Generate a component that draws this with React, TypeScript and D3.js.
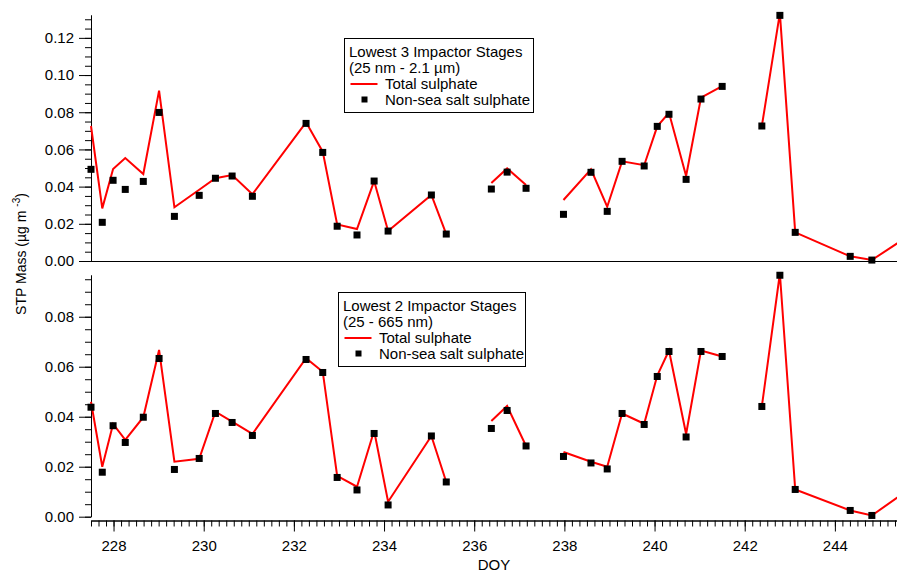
import * as d3 from "d3";
import React, { useRef, useEffect } from "react";

// day of year of each sample, null = break in the record
const doy = [
  227.5, 227.75, 227.99, 228.26, 228.66, 229.01, 229.35, 229.9, 230.26, 230.63,
  231.08, 232.27, 232.64, 232.96, 233.4, 233.78, 234.09, 235.05, 235.38, null,
  236.38, 236.73, 237.15, null,
  237.98, 238.59, 238.95, 239.28, 239.77, 240.06, 240.32, 240.7, 241.03, 241.5, null,
  242.38, 242.78, 243.12, 244.34, 244.82, 245.8,
];

// lowest 3 impactor stages (25 nm - 2.1 um)
const upperTotal = [
  0.0726, 0.0283, 0.0495, 0.0554, 0.0468, 0.0916, 0.0289, 0.0383, 0.0445, 0.0462,
  0.0359, 0.0746, 0.0588, 0.0197, 0.0172, 0.043, 0.0161, 0.0355, 0.0145, null,
  0.0419, 0.0498, 0.0409, null,
  0.0328, 0.0493, 0.0292, 0.0536, 0.0515, 0.0724, 0.0797, 0.0457, 0.0878, 0.094, null,
  0.0726, 0.1333, 0.0154, 0.0025, 0.0005, 0.0162,
];
const upperNss = [
  0.0493, 0.0208, 0.0434, 0.0385, 0.0428, 0.0799, 0.024, 0.0353, 0.0445, 0.0457,
  0.0348, 0.074, 0.0584, 0.0187, 0.014, 0.043, 0.0161, 0.0355, 0.0145, null,
  0.0387, 0.0478, 0.0391, null,
  0.0251, 0.0477, 0.0267, 0.0536, 0.0511, 0.0724, 0.0789, 0.0439, 0.0871, 0.0939, null,
  0.0726, 0.1321, 0.0154, 0.0025, 0.0005, null,
];

// lowest 2 impactor stages (25 - 665 nm)
const lowerTotal = [
  0.046, 0.02, 0.0371, 0.0307, 0.0398, 0.0667, 0.022, 0.0232, 0.042, 0.038,
  0.0331, 0.0634, 0.058, 0.0163, 0.012, 0.0344, 0.006, 0.0323, 0.0139, null,
  0.0383, 0.0443, 0.0283, null,
  0.0259, 0.022, 0.02, 0.0413, 0.0372, 0.0565, 0.0665, 0.0331, 0.0665, 0.0641, null,
  0.0441, 0.0973, 0.0109, 0.0025, 0.0005, 0.0129,
];
const lowerNss = [
  0.0438, 0.0178, 0.0364, 0.0297, 0.0398, 0.0633, 0.0189, 0.0233, 0.0413, 0.0377,
  0.0325, 0.0629, 0.0577, 0.0157, 0.0107, 0.0333, 0.0047, 0.0323, 0.0139, null,
  0.0353, 0.0425, 0.0283, null,
  0.0241, 0.0215, 0.0191, 0.0413, 0.0369, 0.0561, 0.0661, 0.0319, 0.0661, 0.0641, null,
  0.0441, 0.0966, 0.0109, 0.0025, 0.0005, null,
];

const upperTicks = [0, 0.02, 0.04, 0.06, 0.08, 0.1, 0.12];
const lowerTicks = [0, 0.02, 0.04, 0.06, 0.08];
const doyTicks = [228, 230, 232, 234, 236, 238, 240, 242, 244];

const upperTitle = ["Lowest 3 Impactor Stages", "(25 nm - 2.1 \u00b5m)"];
const lowerTitle = ["Lowest 2 Impactor Stages", "(25 - 665 nm)"];

const FONT = "'Liberation Sans', Arial, Helvetica, sans-serif";
const W = 897;
const H = 572;

const App = () => {
  const ref = useRef<SVGSVGElement>(null);

  useEffect(() => {
    const svg = d3.select(ref.current);
    svg.selectAll("*").remove();

    const x = d3.scaleLinear().domain([227.5, 245.4]).range([91, 898]);

    const panels = [
      {
        total: upperTotal,
        nss: upperNss,
        y: d3.scaleLinear().domain([0, 0.1323]).range([261, 15]),
        ticks: upperTicks,
        title: upperTitle,
        box: { x: 344.5, y: 38.5, w: 189, h: 74 },
      },
      {
        total: lowerTotal,
        nss: lowerNss,
        y: d3.scaleLinear().domain([0, 0.0967]).range([516.7, 275]),
        ticks: lowerTicks,
        title: lowerTitle,
        box: { x: 338.5, y: 292.5, w: 187, h: 74 },
      },
    ];

    panels.forEach((p) => {
      const [y0, y1] = p.y.domain();

      // minor then major y ticks
      svg
        .append("g")
        .attr("transform", "translate(91,0)")
        .call(
          d3.axisLeft(p.y).tickValues(d3.range(y0, y1, 0.005)).tickSize(6).tickSizeOuter(0).tickFormat(() => "")
        );
      const ya = svg
        .append("g")
        .attr("transform", "translate(91,0)")
        .call(
          d3.axisLeft(p.y).tickValues(p.ticks).tickSize(12).tickSizeOuter(0).tickPadding(5).tickFormat(d3.format(".2f"))
        );
      ya.selectAll("text").attr("font-size", 15).attr("font-family", FONT).attr("fill", "#000");

      const line = d3
        .line<number | null>()
        .defined((d, i) => d != null && doy[i] != null)
        .x((d, i) => x(doy[i] as number))
        .y((d) => p.y(d as number));

      svg
        .append("path")
        .attr("d", line(p.total))
        .attr("fill", "none")
        .attr("stroke", "#ff0000")
        .attr("stroke-width", 2)
        .attr("stroke-linejoin", "miter");

      svg
        .append("g")
        .selectAll("rect")
        .data(p.nss.map((v, i) => ({ v, t: doy[i] })).filter((d) => d.v != null && d.t != null))
        .join("rect")
        .attr("x", (d) => x(d.t as number) - 3.5)
        .attr("y", (d) => p.y(d.v as number) - 3.5)
        .attr("width", 7)
        .attr("height", 7)
        .attr("fill", "#000");

      // legend
      const lg = svg.append("g").attr("transform", `translate(${p.box.x},${p.box.y})`);
      lg.append("rect")
        .attr("width", p.box.w)
        .attr("height", p.box.h)
        .attr("fill", "#fff")
        .attr("stroke", "#000")
        .attr("stroke-width", 1);
      const rows = [p.title[0], p.title[1], "Total sulphate", "Non-sea salt sulphate"];
      rows.forEach((r, i) => {
        lg.append("text")
          .attr("x", i < 2 ? 4.5 : 40.5)
          .attr("y", 18 + i * 16)
          .attr("font-family", FONT)
          .attr("font-size", 15)
          .text(r);
      });
      lg.append("line")
        .attr("x1", 6)
        .attr("x2", 33)
        .attr("y1", 18 + 2 * 16 - 4.5)
        .attr("y2", 18 + 2 * 16 - 4.5)
        .attr("stroke", "#ff0000")
        .attr("stroke-width", 2);
      lg.append("rect")
        .attr("x", 20 - 3)
        .attr("y", 18 + 3 * 16 - 5 - 3)
        .attr("width", 6)
        .attr("height", 6)
        .attr("fill", "#000");
    });

    // plain axis line under the upper panel
    svg
      .append("line")
      .attr("x1", 91)
      .attr("x2", W)
      .attr("y1", 261.5)
      .attr("y2", 261.5)
      .attr("stroke", "#000");

    // DOY axis
    svg
      .append("g")
      .attr("transform", "translate(0,520.5)")
      .call(
        d3.axisBottom(x).tickValues(d3.range(227.5, 245.4, 1 / 6)).tickSize(6).tickSizeOuter(0).tickFormat(() => "")
      );
    const xa = svg
      .append("g")
      .attr("transform", "translate(0,520.5)")
      .call(d3.axisBottom(x).tickValues(doyTicks).tickSize(11).tickSizeOuter(0).tickPadding(9).tickFormat(d3.format("d")));
    xa.selectAll("text").attr("font-size", 15).attr("font-family", FONT).attr("fill", "#000");
    svg.selectAll(".domain").attr("stroke", "#000");
    svg.selectAll(".tick line").attr("stroke", "#000");

    svg
      .append("text")
      .attr("x", 494)
      .attr("y", 570)
      .attr("text-anchor", "middle")
      .attr("font-family", FONT)
      .attr("font-size", 15)
      .text("DOY");

    const yl = svg
      .append("text")
      .attr("transform", "translate(26,254) rotate(-90)")
      .attr("text-anchor", "middle")
      .attr("font-family", FONT)
      .attr("font-size", 14);
    yl.append("tspan").text("STP Mass (\u00b5g m ");
    yl.append("tspan").attr("font-size", 10).attr("dy", -6).text("-3");
    yl.append("tspan").attr("dy", 6).text(")");
  }, []);

  return (
    <div style={{ position: "absolute", left: 0, top: 0 }}>
      <svg ref={ref} width={W} height={H} style={{ display: "block", background: "#fff" }}></svg>
    </div>
  );
};

export default App;
